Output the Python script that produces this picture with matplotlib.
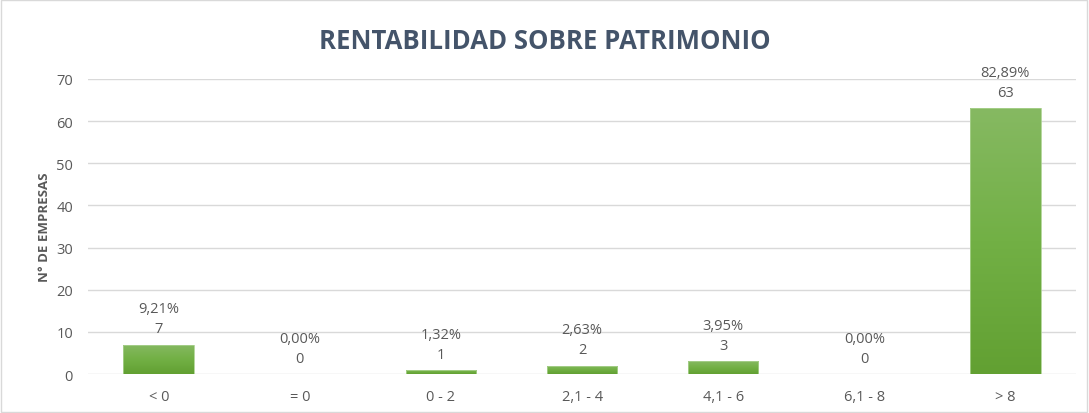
import matplotlib.pyplot as plt
import numpy as np
from matplotlib.colors import LinearSegmentedColormap
from matplotlib.patches import Rectangle

plt.rcParams['font.family'] = ['Open Sans', 'DejaVu Sans']

categories = ["< 0", "= 0", "0 - 2", "2,1 - 4", "4,1 - 6", "6,1 - 8", "> 8"]
counts = [7, 0, 1, 2, 3, 0, 63]
percents = ["9,21%", "0,00%", "1,32%", "2,63%", "3,95%", "0,00%", "82,89%"]

text_col = "#595959"
title_col = "#44546a"

fig = plt.figure(figsize=(10.89, 4.14), dpi=100)
ax = fig.add_axes([0.081, 0.094, 0.907, 0.713])

x = np.arange(len(categories))
bars = ax.bar(x, counts, width=0.5, color="#70ad47", zorder=2)

# gradient fill, light at top, darker at bottom
cmap = LinearSegmentedColormap.from_list("g", ["#62a032", "#72b045", "#86b962"])
grad = np.linspace(0, 1, 256).reshape(-1, 1)
for b in bars:
    if b.get_height() <= 0:
        continue
    x0, w, h = b.get_x(), b.get_width(), b.get_height()
    im = ax.imshow(grad, extent=[x0, x0 + w, 0, h], origin="lower", cmap=cmap,
                   aspect="auto", zorder=3)
    clip = Rectangle((x0, 0), w, h, transform=ax.transData)
    im.set_clip_path(clip)
    ax.add_patch(Rectangle((x0, 0), w, h, fill=False, edgecolor="#a9d18e",
                           linewidth=0.6, zorder=4))

for xi, c, p in zip(x, counts, percents):
    ax.annotate(f"{p}\n{c}", (xi, c), xytext=(0, 6), textcoords="offset points",
                ha="center", va="bottom", fontsize=10.5, color=text_col,
                linespacing=1.45)

ax.set_xlim(-0.5, len(categories) - 0.5)
ax.set_ylim(0, 70)
ax.set_yticks(range(0, 71, 10))
ax.set_xticks(x)
ax.set_xticklabels(categories)
ax.tick_params(axis="both", length=0, labelsize=10.5, labelcolor=text_col)
ax.tick_params(axis="x", pad=11)
ax.tick_params(axis="y", pad=11)
ax.grid(axis="y", color="#d9d9d9", linewidth=1, zorder=0)
for s in ax.spines.values():
    s.set_visible(False)
ax.set_ylabel("N° DE EMPRESAS", fontsize=9.5, fontweight="bold", color=text_col, labelpad=4)

fig.text(0.5, 0.9, "RENTABILIDAD SOBRE PATRIMONIO", ha="center", va="center",
         fontsize=18.5, fontweight="bold", color=title_col)

fig.patches.append(Rectangle((0.001, 0.002), 0.997, 0.995, transform=fig.transFigure,
                             fill=False, edgecolor="#d9d9d9", linewidth=1))

fig.savefig("out.png", dpi=100)
